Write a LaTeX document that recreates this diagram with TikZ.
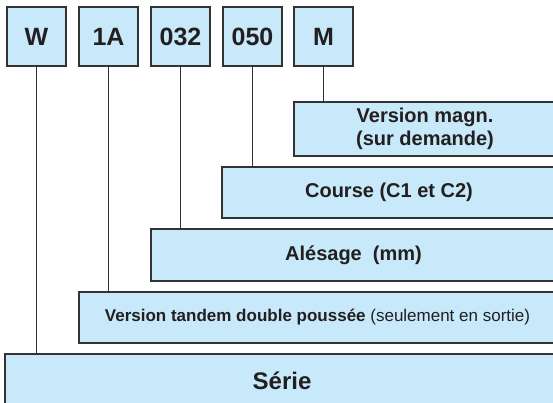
\documentclass[tikz,border=0pt]{standalone}
\usepackage{fontspec}
\setmainfont{Liberation Sans}
\definecolor{boxfill}{HTML}{C7E9F9}
\definecolor{boxline}{HTML}{333333}
\definecolor{txt}{HTML}{231F20}
\tikzset{
  codebox/.style={draw=boxline, line width=1.3pt, fill=boxfill, minimum width=59pt, minimum height=59pt, inner sep=0pt, text=txt, font=\fontsize{25}{28}\selectfont\bfseries},
  descbox/.style={draw=boxline, line width=1.3pt, fill=boxfill, inner sep=0pt, text=txt, align=center, font=\fontsize{20}{23}\selectfont\bfseries},
  link/.style={draw=boxline, line width=1.4pt}
}
\begin{document}
\begin{tikzpicture}[x=1pt,y=-1pt]
\useasboundingbox (0,0) rectangle (553,403);
\clip (0,0) rectangle (553,403);
\node[codebox] (W) at (36.5,36.5) {W};
\node[codebox] (A) at (108.5,36.5) {1A};
\node[codebox] (B) at (180.5,36.5) {032};
\node[codebox] (C) at (252.5,36.5) {050};
\node[codebox] (M) at (323.5,36.5) {M};
\node[descbox, minimum width=262pt, minimum height=54pt] (magn) at (425,129) {Version magn.\\(sur demande)};
\node[descbox, minimum width=334pt, minimum height=51pt] (course) at (389,192.5) {Course (C1 et C2)};
\node[descbox, minimum width=405pt, minimum height=52pt] (ales) at (353.5,255) {Alésage\ \ (mm)};
\node[descbox, minimum width=477pt, minimum height=51pt, font=\fontsize{17}{20}\selectfont] (tand) at (317.5,317.5) {\textbf{Version tandem double poussée} (seulement en sortie)};
\node[descbox, minimum width=554pt, minimum height=54pt, font=\fontsize{24}{28}\selectfont\bfseries] (serie) at (282,381) {Série};
\draw[link] (W.south) -- (W.south |- serie.north);
\draw[link] (A.south) -- (A.south |- tand.north);
\draw[link] (B.south) -- (B.south |- ales.north);
\draw[link] (C.south) -- (C.south |- course.north);
\draw[link] (M.south) -- (M.south |- magn.north);
\end{tikzpicture}
\end{document}
